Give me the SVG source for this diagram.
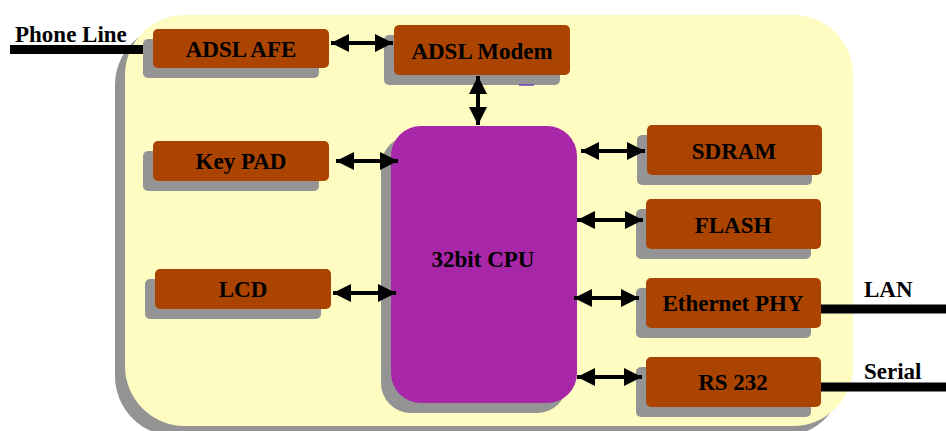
<svg xmlns="http://www.w3.org/2000/svg" width="946" height="431" viewBox="0 0 946 431">
  <defs>
    <style>
      .shadow { fill: #949494; }
      .blk { fill: #AA4400; }
      .cpu { fill: #A826A8; }
      .lbl { font-family: "Liberation Serif", "Times New Roman", serif; font-weight: bold; font-size: 23px; fill: #000; text-anchor: middle; }
      .ext { font-family: "Liberation Serif", "Times New Roman", serif; font-weight: bold; font-size: 23px; fill: #000; }
      .wire { stroke: #000; stroke-width: 9; fill: none; }
      .bus { stroke: #000; stroke-width: 4; fill: none; marker-start: url(#head); marker-end: url(#head); }
    </style>
    <marker id="head" viewBox="0 0 18 18" refX="18" refY="9" markerWidth="18" markerHeight="18" markerUnits="userSpaceOnUse" orient="auto-start-reverse">
      <path d="M0,0 L18,9 L0,18 Z" fill="#000"/>
    </marker>
  </defs>

  <!-- board outline -->
  <g id="board">
    <rect x="115" y="25" width="728" height="411" rx="60" class="shadow"/>
    <rect x="125" y="15" width="728" height="411" rx="60" fill="#FEFCC0"/>
  </g>

  <!-- external lines -->
  <g id="phone-line">
    <line x1="10" y1="49.5" x2="146" y2="49.5" class="wire"/>
    <text x="15" y="42" class="ext">Phone Line</text>
  </g>
  <g id="lan">
    <line x1="818" y1="309" x2="946" y2="309" class="wire"/>
    <text x="864" y="297" class="ext">LAN</text>
  </g>
  <g id="serial">
    <line x1="818" y1="387" x2="946" y2="387" class="wire"/>
    <text x="864" y="379" class="ext">Serial</text>
  </g>

  <g id="adsl-afe">
    <rect x="143" y="39" width="176" height="39" rx="5" class="shadow"/>
    <rect x="153" y="29" width="176" height="39" rx="5" class="blk"/>
    <text x="241" y="57" class="lbl">ADSL AFE</text>
  </g>
  <g id="adsl-modem">
    <rect x="384" y="35" width="176" height="50" rx="5" class="shadow"/>
    <rect x="394" y="25" width="176" height="50" rx="5" class="blk"/>
    <text x="482" y="59" class="lbl">ADSL Modem</text>
    <line x1="519" y1="85" x2="534" y2="85" stroke="#7040C0" stroke-width="1.5"/>
  </g>
  <g id="key-pad">
    <rect x="143" y="151" width="176" height="40" rx="5" class="shadow"/>
    <rect x="153" y="141" width="176" height="40" rx="5" class="blk"/>
    <text x="241" y="169" class="lbl">Key PAD</text>
  </g>
  <g id="lcd">
    <rect x="145" y="279" width="176" height="40" rx="5" class="shadow"/>
    <rect x="155" y="269" width="176" height="40" rx="5" class="blk"/>
    <text x="243" y="297" class="lbl">LCD</text>
  </g>
  <g id="cpu">
    <rect x="381" y="136" width="186" height="277" rx="30" class="shadow"/>
    <rect x="391" y="126" width="186" height="277" rx="30" class="cpu"/>
    <text x="483" y="267" class="lbl">32bit CPU</text>
  </g>
  <g id="sdram">
    <rect x="637" y="135" width="175" height="50" rx="5" class="shadow"/>
    <rect x="647" y="125" width="175" height="50" rx="5" class="blk"/>
    <text x="734" y="159" class="lbl">SDRAM</text>
  </g>
  <g id="flash">
    <rect x="636" y="209" width="175" height="50" rx="5" class="shadow"/>
    <rect x="646" y="199" width="175" height="50" rx="5" class="blk"/>
    <text x="733" y="233" class="lbl">FLASH</text>
  </g>
  <g id="ethernet-phy">
    <rect x="636" y="288" width="175" height="50" rx="5" class="shadow"/>
    <rect x="646" y="278" width="175" height="50" rx="5" class="blk"/>
    <text x="733" y="311" class="lbl">Ethernet PHY</text>
  </g>
  <g id="rs232">
    <rect x="636" y="367" width="175" height="50" rx="5" class="shadow"/>
    <rect x="646" y="357" width="175" height="50" rx="5" class="blk"/>
    <text x="733" y="390" class="lbl">RS 232</text>
  </g>

  <!-- bidirectional buses -->
  <g id="connectors">
    <line x1="331" y1="43" x2="393" y2="43" class="bus"/>
    <line x1="478" y1="76" x2="478" y2="125" class="bus"/>
    <line x1="336" y1="161" x2="398" y2="161" class="bus"/>
    <line x1="333" y1="293" x2="396" y2="293" class="bus"/>
    <line x1="581" y1="151" x2="645" y2="151" class="bus"/>
    <line x1="577" y1="220" x2="643" y2="220" class="bus"/>
    <line x1="574" y1="298" x2="639" y2="298" class="bus"/>
    <line x1="577" y1="377" x2="642" y2="377" class="bus"/>
  </g>
</svg>
